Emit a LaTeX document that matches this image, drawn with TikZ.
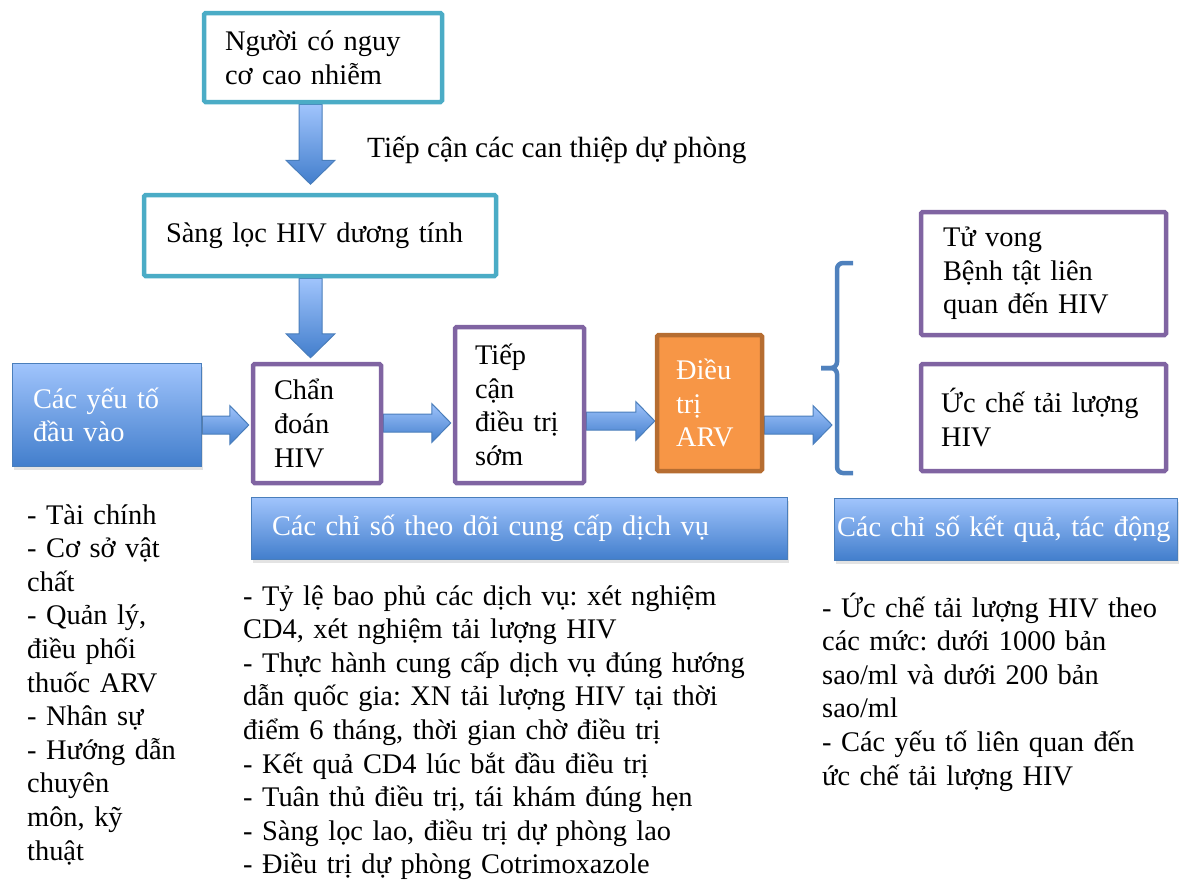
\documentclass[tikz,border=0pt]{standalone}
\usepackage{fontspec}
\setmainfont{Liberation Serif}
\usetikzlibrary{calc,shadows}
\pgfdeclarelayer{bg}
\pgfsetlayers{bg,main}
\definecolor{cTeal}{RGB}{75,172,198}
\definecolor{cPurple}{RGB}{128,100,162}
\definecolor{cOrFill}{RGB}{247,150,70}
\definecolor{cOrLine}{RGB}{182,109,49}
\definecolor{cBlueLine}{RGB}{74,126,187}
\definecolor{cBlueTop}{RGB}{160,196,252}
\definecolor{cBlueBot}{RGB}{66,126,204}
\definecolor{cBrace}{RGB}{79,129,189}
\newcommand\bigfont{\fontsize{28.4}{33.6}\selectfont\frenchspacing}
\newcommand\lblfont{\fontsize{29.3}{33.6}\selectfont\frenchspacing}
\newcommand\HArrow[2]{%
 \path[blockarrow] let \p1=(#1), \p2=(#2) in
 (\x1,\y1+9pt) -- (\x2-19pt,\y1+9pt) -- (\x2-19pt,\y1+19.5pt) -- (\x2,\y1)
 -- (\x2-19pt,\y1-19.5pt) -- (\x2-19pt,\y1-9pt) -- (\x1,\y1-9pt) -- cycle;}
\newcommand\VArrow[2]{%
 \path[blockarrow] let \p1=(#1), \p2=(#2) in
 (\x1-11.5pt,\y1) -- (\x1-11.5pt,\y2+24pt) -- (\x1-24.5pt,\y2+24pt) -- (\x1,\y2)
 -- (\x1+24.5pt,\y2+24pt) -- (\x1+11.5pt,\y2+24pt) -- (\x1+11.5pt,\y1) -- cycle;}
\tikzset{
 every node/.style={font=\bigfont},
 boxbase/.style={rectangle, rounded corners=1.5pt, align=left, inner ysep=0pt, fill=white},
 tealbox/.style={boxbase, draw=cTeal, line width=4.5pt},
 purplebox/.style={boxbase, draw=cPurple, line width=4.5pt},
 arvbox/.style={boxbase, draw=cOrLine, fill=cOrFill, line width=4.5pt, text=white},
 bluebox/.style={rectangle, draw=cBlueLine, line width=1.5pt, top color=cBlueTop, bottom color=cBlueBot,
   text=white, align=left, inner ysep=0pt,
   drop shadow={opacity=0.22, shadow xshift=1pt, shadow yshift=-3pt}},
 listtext/.style={anchor=base west, inner sep=0pt, align=left},
 blockarrow/.style={draw=cBlueLine, line width=1pt, top color=cBlueTop, bottom color=cBlueBot},
 bracestyle/.style={draw=cBrace, line width=4.5pt},
}
\begin{document}
\begin{tikzpicture}[x=1pt,y=-1pt]
\useasboundingbox (0,0) rectangle (1183,884);

% boxes
\node[tealbox, minimum width=238, minimum height=89, inner xsep=21, text width=196] (risk) at (323,57.5)
  {Người có nguy\\cơ cao nhiễm};
\node[tealbox, minimum width=352, minimum height=81, inner xsep=22, text width=308] (screen) at (320,235.5)
  {Sàng lọc HIV dương tính};
\node[purplebox, minimum width=128, minimum height=119, inner xsep=21, text width=86] (chan) at (317,423.5)
  {Chẩn\\đoán\\HIV};
\node[purplebox, minimum width=129, minimum height=156, inner xsep=20, text width=89] (tiep) at (519.5,405)
  {Tiếp\\cận\\điều trị\\sớm};
\node[arvbox, minimum width=105, minimum height=136, inner xsep=19, text width=67] (arv) at (709.5,403)
  {Điều\\trị\\ARV};
\node[bluebox, minimum width=189, minimum height=103, inner xsep=20.5, text width=148] (input) at (107,415)
  {Các yếu tố\\đầu vào};
\node[purplebox, minimum width=245, minimum height=123, inner xsep=22, text width=201] (death) at (1043.5,273.5)
  {Tử vong\\Bệnh tật liên\\quan đến HIV};
\node[purplebox, minimum width=245, minimum height=107, inner xsep=20, text width=205] (supp) at (1043.5,417.5)
  {Ức chế tải lượng\\HIV};
\node[bluebox, minimum width=536, minimum height=62, inner xsep=20.5, text width=495] (bar1) at (519.5,528.5)
  {Các chỉ số theo dõi cung cấp dịch vụ};
\node[bluebox, minimum width=343, minimum height=62, inner xsep=2.5, text width=338] (bar2) at (1006,529.5)
  {Các chỉ số kết quả, tác động};

% label
\node[listtext, font=\lblfont] (lbl) at (367,157) {Tiếp cận các can thiệp dự phòng};

% brace
\coordinate (bt) at (832,425);
\draw[bracestyle, rounded corners=6pt] (853,263) -- (837,263) -- (837,368) -- (821,368);
\draw[bracestyle, rounded corners=6pt] (821,368) -- (837,368) -- (837,473) -- (853,473);

% arrows
\begin{pgfonlayer}{bg}
\VArrow{$(risk.south)+(-12.5,0)$}{$(screen.north)+(-9.5,-8.5)$}
\VArrow{$(screen.south)+(-9.5,0)$}{$(chan.north)+(-6.5,-4)$}
\HArrow{$(input.east)+(0,10)$}{$(chan.west)+(-2,1.5)$}
\HArrow{$(chan.east)+(0,-0.5)$}{$(tiep.west)+(-2,18)$}
\HArrow{$(tiep.east)+(0,16)$}{$(arv.west)+(0,18)$}
\HArrow{$(arv.east)+(0,22)$}{bt}
\end{pgfonlayer}

% lists
\node[listtext, text width=220] (col1) at (27,524)
  {- Tài chính\\- Cơ sở vật\\chất\\- Quản lý,\\điều phối\\thuốc ARV\\- Nhân sự\\- Hướng dẫn\\chuyên\\môn, kỹ\\thuật};
\node[listtext, text width=560] (col2) at (243,605)
  {- Tỷ lệ bao phủ các dịch vụ: xét nghiệm\\CD4, xét nghiệm tải lượng HIV\\- Thực hành cung cấp dịch vụ đúng hướng\\dẫn quốc gia: XN tải lượng HIV tại thời\\điểm 6 tháng, thời gian chờ điều trị\\- Kết quả CD4 lúc bắt đầu điều trị\\- Tuân thủ điều trị, tái khám đúng hẹn\\- Sàng lọc lao, điều trị dự phòng lao\\- Điều trị dự phòng Cotrimoxazole};
\node[listtext, text width=360] (col3) at (822,617)
  {- Ức chế tải lượng HIV theo\\các mức: dưới 1000 bản\\sao/ml và dưới 200 bản\\sao/ml\\- Các yếu tố liên quan đến\\ức chế tải lượng HIV};
\end{tikzpicture}
\end{document}
